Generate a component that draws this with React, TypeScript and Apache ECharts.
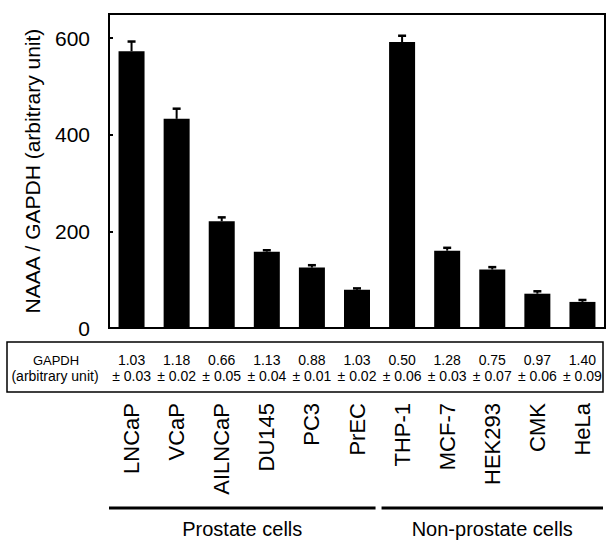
import React, { useEffect, useRef } from "react";
import * as echarts from "echarts";

const categories = ["LNCaP", "VCaP", "AILNCaP", "DU145", "PC3", "PrEC", "THP-1", "MCF-7", "HEK293", "CMK", "HeLa"];
const naaaValues = [573, 433, 221, 158, 125, 79, 592, 160, 121, 71, 54];
const naaaErrors = [20, 21, 8, 3, 5, 3, 13, 6, 5, 5, 4];
const gapdhValues = ["1.03", "1.18", "0.66", "1.13", "0.88", "1.03", "0.50", "1.28", "0.75", "0.97", "1.40"];
const gapdhErrors = ["0.03", "0.02", "0.05", "0.04", "0.01", "0.02", "0.06", "0.03", "0.07", "0.06", "0.09"];
const yTicks = [0, 200, 400, 600];
const groups = [
  { name: "Prostate cells", from: 0, to: 5 },
  { name: "Non-prostate cells", from: 6, to: 10 },
];

const FONT = "'Liberation Sans', Arial, Helvetica, sans-serif";

export default function App() {
  const ref = useRef<HTMLDivElement>(null);
  useEffect(() => {
    if (!ref.current) return;
    const chart = echarts.init(ref.current, null, { renderer: "svg" });
    const gridLeft = 109;
    const gridRight = 605;
    const band = (gridRight - gridLeft) / categories.length;
    const groupGraphics: any[] = [];
    groups.forEach((g, gi) => {
      const x1 = gi === 0 ? 109 : gridLeft + g.from * band + 2;
      const x2 = gi === 0 ? gridLeft + (g.to + 1) * band - 4 : 603;
      groupGraphics.push({
        type: "line",
        shape: { x1, y1: 508, x2, y2: 508 },
        style: { stroke: "#000", lineWidth: 3 },
      });
      groupGraphics.push({
        type: "text",
        x: (x1 + x2) / 2,
        y: 529,
        style: { text: g.name, fill: "#000", font: `20px ${FONT}`, align: "center", verticalAlign: "middle" },
      });
    });
    chart.setOption({
      animation: false,
      backgroundColor: "#fff",
      grid: {
        left: gridLeft,
        right: 607 - gridRight,
        top: 14,
        bottom: 540 - 328,
        show: true,
        borderColor: "#000",
        borderWidth: 2,
        containLabel: false,
      },
      xAxis: [
        {
          type: "category",
          data: categories,
          position: "bottom",
          axisLine: { show: true, lineStyle: { color: "#000", width: 2 } },
          axisTick: { show: false },
          axisLabel: {
            rotate: 90,
            margin: 75,
            color: "#000",
            fontSize: 22,
            fontFamily: FONT,
            interval: 0,
          },
        },
        {
          type: "category",
          data: categories,
          position: "bottom",
          axisLine: { show: false },
          axisTick: { show: false },
          axisLabel: {
            margin: 24,
            color: "#000",
            fontSize: 14,
            lineHeight: 16,
            fontFamily: FONT,
            interval: 0,
            formatter: (_v: string, i: number) => `${gapdhValues[i]}\n± ${gapdhErrors[i]}`,
          },
        },
      ],
      yAxis: {
        type: "value",
        min: 0,
        max: 650,
        interval: 200,
        name: "NAAA / GAPDH (arbitrary unit)",
        nameLocation: "middle",
        nameGap: 66,
        nameTextStyle: { color: "#000", fontSize: 21, fontFamily: FONT },
        axisLine: { show: true, lineStyle: { color: "#000", width: 2 } },
        axisTick: { show: true, inside: true, length: 4, lineStyle: { color: "#000", width: 2 } },
        splitLine: { show: false },
        axisLabel: {
          margin: 19,
          color: "#000",
          fontSize: 21,
          fontFamily: FONT,
          showMaxLabel: false,
          formatter: (v: number) => (yTicks.includes(v) ? String(v) : ""),
        },
      },
      series: [
        {
          type: "bar",
          data: naaaValues,
          barWidth: 26,
          itemStyle: { color: "#000" },
          xAxisIndex: 0,
        },
        {
          type: "custom",
          xAxisIndex: 0,
          data: naaaValues.map((v, i) => [i, v, naaaErrors[i]]),
          renderItem: (_params: any, api: any) => {
            const i = api.value(0);
            const v = api.value(1);
            const e = api.value(2);
            const p0 = api.coord([i, v]);
            const p1 = api.coord([i, v + e]);
            return {
              type: "group",
              children: [
                {
                  type: "line",
                  shape: { x1: p0[0], y1: p0[1], x2: p1[0], y2: p1[1] },
                  style: { stroke: "#000", lineWidth: 2 },
                },
                {
                  type: "line",
                  shape: { x1: p1[0] - 4, y1: p1[1], x2: p1[0] + 4, y2: p1[1] },
                  style: { stroke: "#000", lineWidth: 2.5 },
                },
              ],
            };
          },
          z: 3,
        },
      ],
      graphic: [
        {
          type: "rect",
          shape: { x: 7, y: 342, width: 596, height: 50 },
          style: { fill: "none", stroke: "#000", lineWidth: 1.5 },
        },
        {
          type: "text",
          x: 56,
          y: 360,
          style: { text: "GAPDH", fill: "#000", font: `13px ${FONT}`, align: "center", verticalAlign: "middle" },
        },
        {
          type: "text",
          x: 55,
          y: 376,
          style: { text: "(arbitrary unit)", fill: "#000", font: `14px ${FONT}`, align: "center", verticalAlign: "middle" },
        },
        ...groupGraphics,
      ],
    });
    return () => chart.dispose();
  }, []);
  return <div ref={ref} style={{ position: "fixed", left: 0, top: 0, width: 607, height: 540 }} />;
}
